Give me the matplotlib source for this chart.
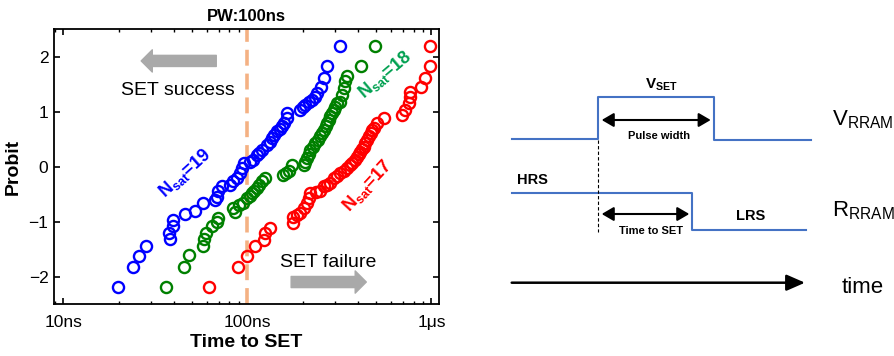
import matplotlib
matplotlib.use('Agg')
import matplotlib.pyplot as plt
import numpy as np

plt.rcParams['font.family'] = ['Liberation Sans', 'DejaVu Sans']
plt.rcParams['mathtext.fontset'] = 'custom'
plt.rcParams['mathtext.rm'] = 'Liberation Sans'
plt.rcParams['mathtext.bf'] = 'Liberation Sans:bold'
plt.rcParams['mathtext.it'] = 'Liberation Sans:italic'

# data: time to SET (ns) and probit
t_blue = [19.8, 23.9, 25.9, 28.0, 37.8, 37.3, 39.7, 39.7, 45.9, 52.1,
          57.3, 66.8, 68.2, 69.6, 72.7, 80.7, 84.1, 87.8, 91.4, 93.5,
          95.4, 104, 108, 112.8, 116, 120, 127.8, 132, 136, 140,
          145, 150, 154, 158, 164, 164, 194, 200, 206.5, 215,
          224, 232, 239, 250, 260, 271, 320]
p_blue = [-2.19, -1.83, -1.62, -1.45, -1.32, -1.20, -1.09, -0.97, -0.87, -0.80,
          -0.67, -0.61, -0.55, -0.45, -0.36, -0.33, -0.27, -0.21, -0.12, -0.03,
          0.06, 0.08, 0.12, 0.21, 0.25, 0.30, 0.39, 0.45, 0.52, 0.58,
          0.64, 0.68, 0.73, 0.80, 0.88, 0.97, 1.03, 1.08, 1.12, 1.17,
          1.21, 1.27, 1.33, 1.45, 1.61, 1.82, 2.20]

t_green = [36.1, 45.5, 48.1, 57.3, 58.5, 59.7, 64.1, 68.3, 69.5, 85.9,
           84, 89.6, 95.3, 99.5, 103, 106, 109, 112.8, 116, 120,
           125, 157, 162, 167.5, 175, 202, 206, 211, 215, 220,
           227, 234, 241, 249, 255, 260, 266, 271, 277, 282,
           288, 294, 300, 307, 320, 327, 334, 341, 348, 415, 497]
p_green = [-2.19, -1.82, -1.61, -1.45, -1.32, -1.21, -1.09, -1.00, -0.94, -0.82,
           -0.76, -0.70, -0.67, -0.58, -0.53, -0.48, -0.44, -0.39, -0.33, -0.27,
           -0.21, -0.15, -0.12, -0.09, 0.03, 0.03, 0.09, 0.15, 0.22, 0.30,
           0.36, 0.42, 0.48, 0.55, 0.61, 0.67, 0.73, 0.79, 0.85, 0.91,
           0.97, 1.03, 1.09, 1.15, 1.18, 1.30, 1.42, 1.55, 1.64, 1.82, 2.20]

t_red = [62.2, 88.9, 99.5, 110.5, 122.5, 125, 132, 177, 177, 185,
         194, 202, 211, 215, 220, 235, 249, 260, 270, 282,
         294, 307, 320, 334, 348, 360, 371, 383, 395, 403,
         411, 420, 429, 438, 447, 457, 467, 477, 487, 507,
         551, 693, 723, 754, 770, 770, 873, 929, 988, 988]
p_red = [-2.19, -1.82, -1.62, -1.45, -1.33, -1.21, -1.12, -1.02, -0.91, -0.88,
         -0.85, -0.76, -0.67, -0.58, -0.48, -0.47, -0.45, -0.36, -0.33, -0.30,
         -0.21, -0.17, -0.12, -0.08, -0.03, 0.02, 0.06, 0.12, 0.18, 0.22,
         0.27, 0.31, 0.36, 0.42, 0.48, 0.55, 0.61, 0.66, 0.70, 0.79,
         0.88, 0.94, 1.03, 1.15, 1.27, 1.36, 1.45, 1.61, 1.82, 2.20]

x_ticks = [1e-8, 1e-7, 1e-6]
x_tick_labels = ['10ns', '100ns', '1μs']
y_ticks = [-2, -1, 0, 1, 2]
pulse_width = 1e-7

fig = plt.figure(figsize=(8.95, 3.56), dpi=100)
ax = fig.add_axes([0.0603, 0.146, 0.4302, 0.7725])

for t, p, c in [(t_blue, p_blue, 'blue'), (t_green, p_green, 'green'), (t_red, p_red, 'red')]:
    ax.plot(np.array(t) * 1e-9, p, 'o', mfc='none', mec=c, ms=8, mew=1.7, zorder=3)

ax.axvline(pulse_width, color='#F4B183', lw=2.6, ls=(0, (4.4, 2.2)), zorder=2)

ax.set_xscale('log')
ax.set_xlim(8.9e-9, 1.1e-6)
ax.set_ylim(-2.5, 2.5)
ax.set_xticks(x_ticks)
ax.set_xticklabels(x_tick_labels)
ax.set_yticks(y_ticks)
ax.tick_params(which='both', direction='in', top=True, right=True, labelsize=12.5)
ax.tick_params(axis='x', which='major', length=4, width=1.2, pad=8)
ax.tick_params(axis='x', which='minor', length=2.5, width=1)
ax.tick_params(axis='y', length=4, width=1.2, pad=4)
for s in ax.spines.values():
    s.set_linewidth(1.3)

ax.set_xlabel('Time to SET', fontsize=14, fontweight='bold', labelpad=3)
ax.set_ylabel('Probit', fontsize=14, fontweight='bold', labelpad=5)
ax.set_title('PW:100ns', fontsize=12, fontweight='bold', pad=6)

# annotations
ax.text(42e-9, 1.39, 'SET success', fontsize=14, ha='center', va='center')
ax.text(275e-9, -1.75, 'SET failure', fontsize=14, ha='center', va='center')
arrow_kw = dict(arrowstyle='simple,head_width=1.6,head_length=0.8,tail_width=0.8',
                color='#A9A9A9', shrinkA=0, shrinkB=0, mutation_scale=10)
ax.annotate('', xy=(26.5e-9, 1.92), xytext=(67.8e-9, 1.92), arrowprops=arrow_kw)
ax.annotate('', xy=(443e-9, -2.10), xytext=(173e-9, -2.10), arrowprops=arrow_kw)

ax.text(45.9e-9, -0.12, r'$\mathbf{N_{sat}}$=19', color='blue', fontsize=13,
        fontweight='bold', rotation=42, ha='center', va='center', rotation_mode='anchor')
ax.text(562e-9, 1.67, r'$\mathbf{N_{sat}}$=18', color='#00A050', fontsize=13,
        fontweight='bold', rotation=40, ha='center', va='center', rotation_mode='anchor')
ax.text(447e-9, -0.36, r'$\mathbf{N_{sat}}$=17', color='red', fontsize=13,
        fontweight='bold', rotation=47, ha='center', va='center', rotation_mode='anchor')

# schematic on the right (pixel coordinates)
ax2 = fig.add_axes([500 / 895, 0, 395 / 895, 1])
ax2.set_xlim(500, 895)
ax2.set_ylim(356, 0)
ax2.axis('off')

blue_line = '#4472C4'
ax2.plot([511.7, 597.7, 597.7, 714, 714, 810.7], [139, 139, 97.3, 97.3, 140, 140],
         color=blue_line, lw=1.5)
ax2.plot([511.7, 691.7, 691.7, 805.7], [193.3, 193.3, 230, 230], color=blue_line, lw=1.5)
ax2.plot([597.7, 597.7], [140, 231.7], color='black', lw=0.8, ls=(0, (3, 2)))

dbl = dict(arrowstyle='<|-|>,head_length=0.6,head_width=0.35', color='black', lw=1.5,
           shrinkA=0, shrinkB=0, mutation_scale=12)
ax2.annotate('', xy=(710.7, 120), xytext=(601.7, 120), arrowprops=dbl)
ax2.annotate('', xy=(689.3, 214), xytext=(601.7, 214), arrowprops=dbl)
ax2.annotate('', xy=(805, 282.7), xytext=(511.7, 282.7),
             arrowprops=dict(arrowstyle='-|>,head_length=0.8,head_width=0.35', color='black',
                             lw=1.8, shrinkA=0, shrinkB=0, mutation_scale=14))

ax2.text(661, 85, r'$\mathbf{V_{SET}}$', fontsize=11, ha='center', va='center')
ax2.text(659, 136, 'Pulse width', fontsize=8, fontweight='bold', ha='center', va='center')
ax2.text(651, 230.7, 'Time to SET', fontsize=8, fontweight='bold', ha='center', va='center')
ax2.text(516.7, 180, 'HRS', fontsize=10.5, fontweight='bold', ha='left', va='center')
ax2.text(750.7, 216, 'LRS', fontsize=10.5, fontweight='bold', ha='center', va='center')
ax2.text(831.7, 125, r'$\mathregular{V_{RRAM}}$', fontsize=16, ha='left', va='baseline')
ax2.text(831.7, 216.7, r'$\mathregular{R_{RRAM}}$', fontsize=16, ha='left', va='baseline')
ax2.text(841.7, 293, 'time', fontsize=16, ha='left', va='baseline')

fig.savefig('out.png', dpi=100)
